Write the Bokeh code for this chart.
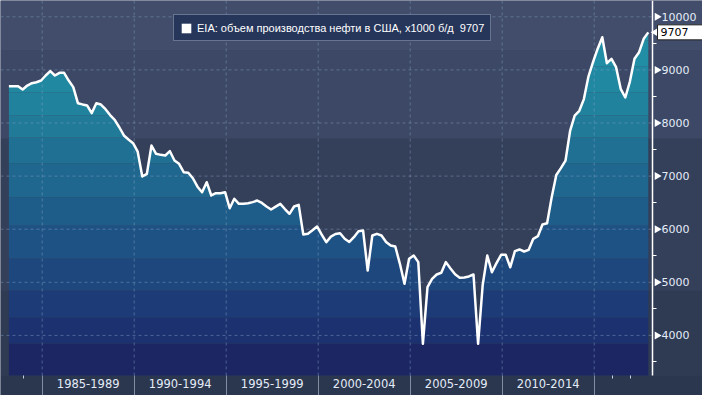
import numpy as np
from bokeh.plotting import figure
from bokeh.models import (Range1d, LinearAxis, FixedTicker, BoxAnnotation, Legend,
                          LegendItem, Label)
from bokeh.embed import file_html
from bokeh.resources import INLINE

# ---------------- data ----------------
first_quarter = 1983.19          # position of the first quarterly observation (years)
production = [
    8693, 8693, 8693, 8631, 8706, 8750, 8768, 8800, 8895, 8976,
    8895, 8945, 8945, 8800, 8675, 8373, 8350, 8330, 8185, 8373,
    8348, 8260, 8150, 8060, 7920, 7765, 7690, 7620, 7460, 6992,
    7043, 7576, 7420, 7400, 7388, 7469, 7294, 7232, 7073, 7062,
    6960, 6800, 6697, 6885, 6635, 6678, 6678, 6697, 6395, 6573,
    6478, 6478, 6490, 6510, 6540, 6495, 6427, 6371, 6425, 6478,
    6380, 6290, 6427, 6459, 5900, 5913, 5980, 6051, 5900, 5755,
    5860, 5910, 5925, 5820, 5760, 5850, 5960, 5975, 5222, 5881,
    5913, 5881, 5760, 5693, 5674, 5348, 4972, 5443, 5505, 5380,
    3842, 4908, 5066, 5147, 5179, 5380, 5260, 5150, 5085, 5090,
    5110, 5147, 3842, 4950, 5505, 5190, 5360, 5518, 5518, 5284,
    5586, 5618, 5580, 5612, 5819, 5868, 6088, 6113, 6600, 7020,
    7150, 7290, 7850, 8140, 8230, 8450, 8880, 9150, 9400, 9616,
    9126, 9209, 9051, 8644, 8480, 8780, 9209, 9333, 9586, 9707,
]
quarters = first_quarter + 0.25 * np.arange(len(production))
period_ticks = [1985, 1990, 1995, 2000, 2005, 2010, 2015]
period_labels = ["1985-1989", "1990-1994", "1995-1999", "2000-2004",
                 "2005-2009", "2010-2014"]
value_ticks = [4000, 5000, 6000, 7000, 8000, 9000, 10000]
value_minor = [3500, 4500, 5500, 6500, 7500, 8500, 9500]
series_name = "EIA: объем производства нефти в США, x1000 б/д"

# ---------------- layout constants ----------------
W, H = 702, 395
X0, X1 = 1982.734, 2020.886
Y0, Y1 = 2868.0, 10307.0
AXIS_X = 2018.17
PLOT_BOTTOM = 3245.0
XPP = (X1 - X0) / W

bg_bands = [  # (lo, hi, colour)
    (Y0, PLOT_BOTTOM, "#2b364f"),
    (PLOT_BOTTOM, 4846, "#2f3a53"),
    (4846, 7708, "#343f5a"),
    (7708, 9365, "#3c4865"),
    (9365, Y1, "#414d6a"),
]
fill_edges = [PLOT_BOTTOM, 3848, 4338, 4846, 5449, 6070, 6597, 7238, 7727,
              8141, 8575, 9064, 9554, Y1]
fill_colors = ["#1b2663", "#1c3170", "#1c3b77", "#1d477d", "#1e5284",
               "#1e5d89", "#1f678e", "#1f7093", "#207a98", "#21829d",
               "#2188a2", "#228ea6", "#2393aa"]

p = figure(width=W, height=H, x_range=Range1d(X0, X1), y_range=Range1d(Y0, Y1),
           x_axis_type=None, y_axis_type=None, toolbar_location=None,
           output_backend="svg", min_border=0, outline_line_color=None,
           background_fill_color="#343f5a", border_fill_color="#343f5a")

for lo, hi, c in bg_bands:
    p.add_layout(BoxAnnotation(bottom=lo, top=hi, fill_color=c, fill_alpha=1,
                               line_color=None, level="underlay"))


def with_crossings(xs, ys, levels):
    ox, oy = [xs[0]], [ys[0]]
    for i in range(1, len(xs)):
        xa, ya, xb, yb = xs[i - 1], ys[i - 1], xs[i], ys[i]
        ts = sorted((l - ya) / (yb - ya) for l in levels if (ya - l) * (yb - l) < 0)
        for t in ts:
            ox.append(xa + t * (xb - xa))
            oy.append(ya + t * (yb - ya))
        ox.append(xb)
        oy.append(yb)
    return np.array(ox), np.array(oy)


fx, fy = with_crossings(list(quarters), list(production), fill_edges[1:-1])
for i, c in enumerate(fill_colors):
    lo, hi = fill_edges[i], fill_edges[i + 1]
    p.varea(x=fx, y1=np.full(len(fx), lo), y2=np.clip(fy, lo, hi),
            fill_color=c, fill_alpha=1)

# dashed grid
grid_kw = dict(line_color="#8aa6c8", line_alpha=0.45, line_width=1, line_dash="3 3")
p.segment(x0=period_ticks, y0=[PLOT_BOTTOM] * len(period_ticks),
          x1=period_ticks, y1=[Y1] * len(period_ticks), **grid_kw)
p.segment(x0=[X0] * len(value_ticks), y0=value_ticks,
          x1=[AXIS_X] * len(value_ticks), y1=value_ticks, **grid_kw)

line_r = p.line(quarters, production, line_color="white", line_width=2.5,
                line_join="round")

# legend swatch (a white square, nothing drawn in the plot)
sq = p.quad(left=[np.nan], right=[np.nan], top=[np.nan], bottom=[np.nan],
            fill_color="white", line_color=None)
legend = Legend(items=[LegendItem(label=f"{series_name}  {production[-1]}", renderers=[sq])],
                location=(173, 354), margin=0, padding=6, spacing=0,
                glyph_width=12, glyph_height=12, label_height=13, label_standoff=5,
                background_fill_color="#26365a", background_fill_alpha=1,
                border_line_color="#aab3c5", border_line_width=1,
                label_text_color="white", label_text_font="Liberation Sans",
                label_text_font_size="11px")
p.add_layout(legend)

# bottom axes
minor_years = [1984, 2016, 2017]
ax_ticks = LinearAxis(ticker=FixedTicker(ticks=period_ticks, minor_ticks=minor_years),
                      fixed_location=PLOT_BOTTOM, axis_line_color=None,
                      major_tick_out=20, major_tick_in=0, major_tick_line_color="#838da2",
                      minor_tick_out=3, minor_tick_in=0, minor_tick_line_color="#c8d0e0",
                      major_label_overrides={t: "" for t in period_ticks})
p.add_layout(ax_ticks, "below")
label_pos = [t + 2.5 for t in period_ticks[:-1]]
ax_labels = LinearAxis(ticker=FixedTicker(ticks=label_pos, minor_ticks=[]),
                       fixed_location=PLOT_BOTTOM, axis_line_color=None,
                       major_tick_line_color=None, major_tick_out=0, major_tick_in=0,
                       minor_tick_line_color=None,
                       major_label_overrides=dict(zip(label_pos, period_labels)),
                       major_label_text_font="DejaVu Sans",
                       major_label_text_font_size="11.5px",
                       major_label_text_color="#e4ecf8", major_label_standoff=4)
p.add_layout(ax_labels, "below")

# right axis
ax_right = LinearAxis(ticker=FixedTicker(ticks=value_ticks, minor_ticks=value_minor),
                      fixed_location=AXIS_X, bounds=(PLOT_BOTTOM, Y1),
                      axis_line_color="white", axis_line_width=1.5,
                      major_tick_out=0, major_tick_in=0,
                      minor_tick_out=4, minor_tick_in=0, minor_tick_line_color="white",
                      major_label_standoff=5, major_label_text_font="DejaVu Sans",
                      major_label_text_font_size="11px", major_label_text_color="#e4ecf8")
p.add_layout(ax_right, "right")
p.scatter(x=[AXIS_X + 4.5 * XPP] * len(value_ticks), y=value_ticks, marker="triangle",
          size=8, angle=-np.pi / 2, fill_color="white", line_color=None)

# last value callout
p.scatter(x=[AXIS_X + 4.5 * XPP], y=[production[-1]], marker="triangle", size=11,
          angle=np.pi / 2, fill_color="white", line_color=None)
p.add_layout(Label(x=AXIS_X, y=production[-1], x_offset=5, text=str(production[-1]),
                   text_baseline="middle", text_align="left", text_color="black",
                   text_font="DejaVu Sans", text_font_size="11px",
                   background_fill_color="white", background_fill_alpha=1,
                   border_line_color="#222222", padding=(3, 20, 3, 4)))

open("out.html", "w").write(file_html(p, INLINE))
